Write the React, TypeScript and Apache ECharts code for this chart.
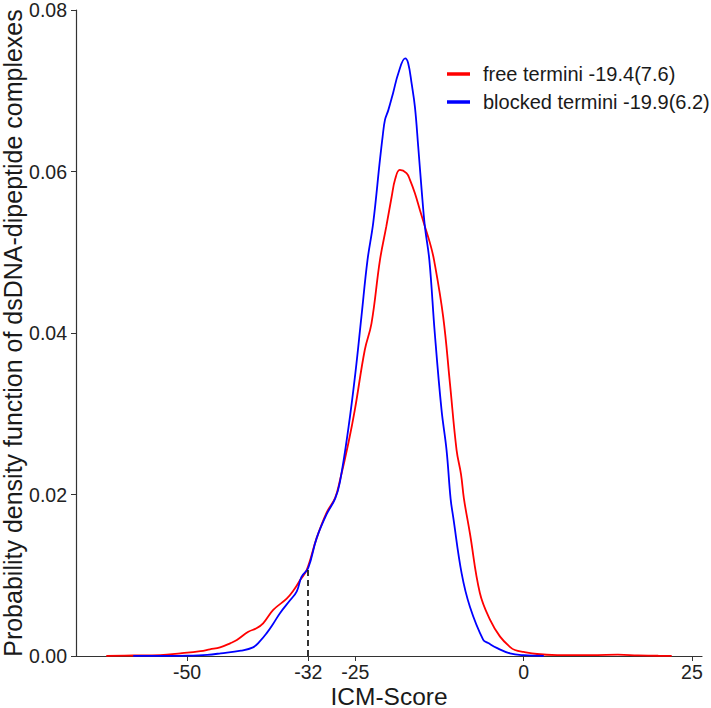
import React, { useEffect, useRef } from "react";
import * as echarts from "echarts";

const freeX = [-62, -58, -54, -51, -48, -46.6, -45.1, -43.6, -42.6, -40.9, -39.7, -38.7, -37.2, -35.2, -34.2, -33.2, -32.2, -30.75, -29.3, -28, -27.3, -26, -25.07, -23.6, -22.6, -21.35, -20.4, -19.6, -19.1, -18.4, -17.4, -16.9, -16.15, -15.4, -14.67, -13.9, -13.3, -11.95, -10.95, -9.96, -9.3, -8.87, -7.98, -6.5, -5, -3.5, -2, -1.3, 0, 2, 5, 8, 11, 14, 17, 20, 22];
const freeY = [0.00002, 0.00006, 0.00012, 0.00033, 0.0006, 0.00083, 0.00107, 0.00157, 0.00198, 0.003, 0.00343, 0.00405, 0.0057, 0.0071, 0.0081, 0.0094, 0.0107, 0.0146, 0.0177, 0.0196, 0.0217, 0.0265, 0.0305, 0.0379, 0.0412, 0.049, 0.0532, 0.0569, 0.059, 0.0602, 0.0598, 0.059, 0.0573, 0.0552, 0.0532, 0.0511, 0.049, 0.042, 0.0338, 0.0255, 0.0225, 0.0195, 0.0152, 0.0078, 0.0045, 0.0024, 0.0011, 0.00074, 0.0005, 0.00025, 0.00012, 0.0001, 0.00012, 0.00016, 0.00008, 0.00003, 0.00001];

const blockedX = [-58, -54, -50, -47, -45, -42, -40.2, -39.2, -38.2, -37.2, -36.2, -34.7, -33.7, -33, -32, -30.75, -29.3, -28, -27.3, -26, -25, -24.1, -23.2, -22.35, -21.35, -20.95, -20.6, -20.1, -19.4, -18.6, -17.6, -17.15, -16.64, -16.15, -15.66, -15.15, -14.67, -14, -13.2, -12.2, -11.45, -10.85, -10.46, -9.2, -7.98, -6, -5.26, -4, -2.03, 0, 3];
const blockedY = [0.00001, 0.00002, 0.00005, 0.00015, 0.00033, 0.00066, 0.00107, 0.0018, 0.0028, 0.004, 0.0053, 0.0069, 0.008, 0.0098, 0.0109, 0.0146, 0.0175, 0.0195, 0.0215, 0.0284, 0.035, 0.042, 0.049, 0.0536, 0.0614, 0.0643, 0.0664, 0.0676, 0.0697, 0.0722, 0.074, 0.0734, 0.0709, 0.068, 0.0631, 0.0577, 0.0532, 0.049, 0.04, 0.0305, 0.0255, 0.0195, 0.0172, 0.0102, 0.0061, 0.002, 0.0016, 0.001, 0.00033, 0.0001, 0.00002];

const xTicks = [-50, -32, -25, 0, 25];
const cutoffX = -32;
const cutoffY = 0.0111;
const seriesNames = ["free termini -19.4(7.6)", "blocked termini -19.9(6.2)"];
const xTitle = "ICM-Score";
const yTitle = "Probability density function of dsDNA-dipeptide complexes";

const FONT = "'Liberation Sans', Arial, Helvetica, sans-serif";

export default function App() {
  const ref = useRef<HTMLDivElement>(null);
  useEffect(() => {
    const chart = echarts.init(ref.current!, null, { renderer: "svg" });
    const zip = (xs: number[], ys: number[]) => xs.map((x, i) => [x, ys[i]]);
    chart.setOption({
      animation: false,
      textStyle: { fontFamily: FONT },
      grid: { left: 76, right: 9, top: 10, bottom: 52, outerBoundsMode: "none", containLabel: false },
      legend: {
        orient: "vertical",
        left: 447,
        top: 64,
        padding: 0,
        icon: "rect",
        itemWidth: 23,
        itemHeight: 3.5,
        itemGap: 8,
        textStyle: { fontSize: 20, color: "#1a1a1a", fontFamily: FONT, padding: [0, 0, 0, 8] },
        data: seriesNames,
      },
      xAxis: {
        type: "value",
        min: -66.5,
        max: 26.5,
        name: xTitle,
        nameLocation: "middle",
        nameGap: 27.5,
        nameMoveOverlap: false,
        nameTextStyle: { fontSize: 24.5, color: "#1a1a1a", fontFamily: FONT },
        axisLine: { show: true, onZero: false, lineStyle: { color: "#333", width: 1.2 } },
        axisTick: { show: true, length: 5, customValues: xTicks, lineStyle: { color: "#333" } },
        axisLabel: { customValues: xTicks, fontSize: 19.5, color: "#222", margin: 6, fontFamily: FONT },
        splitLine: { show: false },
      },
      yAxis: {
        type: "value",
        min: 0,
        max: 0.08,
        interval: 0.02,
        name: yTitle,
        nameLocation: "middle",
        nameGap: 50.5,
        nameMoveOverlap: false,
        nameTextStyle: { fontSize: 25, color: "#1a1a1a", fontFamily: FONT },
        axisLine: { show: true, onZero: false, lineStyle: { color: "#333", width: 1.2 } },
        axisTick: { show: true, length: 5, lineStyle: { color: "#333" } },
        axisLabel: { fontSize: 19.5, color: "#222", margin: 9, fontFamily: FONT, formatter: (v: number) => v.toFixed(2) },
        splitLine: { show: false },
      },
      series: [
        {
          name: seriesNames[0],
          type: "line",
          data: zip(freeX, freeY),
          smooth: 0.4,
          showSymbol: false,
          lineStyle: { color: "#ff0000", width: 1.8 },
          itemStyle: { color: "#ff0000" },
          z: 2,
          markLine: {
            silent: true,
            symbol: "none",
            label: { show: false },
            lineStyle: { color: "#000", type: [6, 4], width: 1.6 },
            data: [[{ coord: [cutoffX, 0] }, { coord: [cutoffX, cutoffY] }]],
          },
        },
        {
          name: seriesNames[1],
          type: "line",
          data: zip(blockedX, blockedY),
          smooth: 0.4,
          showSymbol: false,
          lineStyle: { color: "#0000ff", width: 1.8 },
          itemStyle: { color: "#0000ff" },
          z: 3,
        },
      ],
    });
    return () => chart.dispose();
  }, []);
  return <div ref={ref} style={{ position: "fixed", left: 0, top: 0, width: 711, height: 708, background: "#fff" }} />;
}
